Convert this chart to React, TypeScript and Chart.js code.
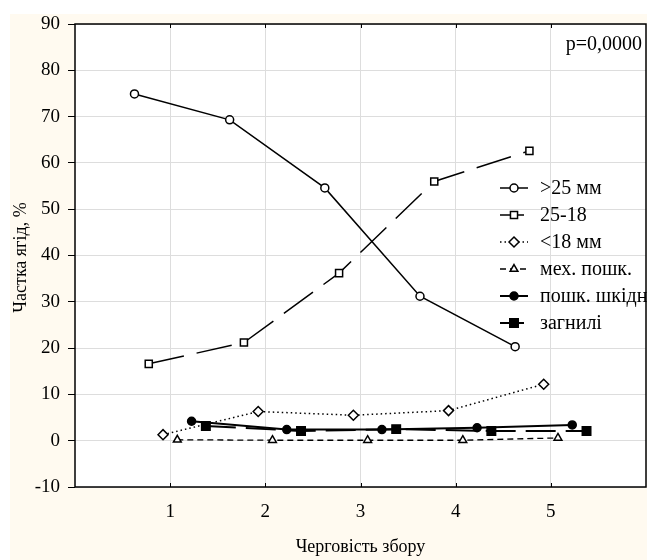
import React, { useEffect, useRef } from 'react';
import { Chart, registerables } from 'chart.js';

Chart.register(...registerables);

// ---- data ----
const harvestOrder = [1, 2, 3, 4, 5];
const xTickValues = [1, 2, 3, 4, 5];
const seriesNames = ['>25 мм', '25-18', '<18 мм', 'мех. пошк.', 'пошк. шкідн', 'загнилі'];
const seriesOffsets = [-0.375, -0.225, -0.075, 0.075, 0.225, 0.375];
const over25 = [74.9, 69.3, 54.6, 31.2, 20.3];
const from25to18 = [16.6, 21.2, 36.2, 56.0, 62.6];
const under18 = [1.3, 6.3, 5.5, 6.5, 12.2];
const mechDamage = [0.2, 0.1, 0.1, 0.1, 0.6];
const pestDamage = [4.2, 2.4, 2.4, 2.8, 3.4];
const rotten = [3.2, 2.1, 2.5, 2.1, 2.1];
const seriesValues = [over25, from25to18, under18, mechDamage, pestDamage, rotten];
const pValueText = 'p=0,0000';
const xTitle = 'Черговість збору';
const yTitle = 'Частка ягід, %';

// ---- styles ----
type SeriesStyle = { dash: number[]; width: number; point: string; filled: boolean; r: number };
const seriesStyles: SeriesStyle[] = [
  { dash: [], width: 1.5, point: 'circle', filled: false, r: 4 },
  { dash: [36, 13], width: 1.5, point: 'rect', filled: false, r: 5 },
  { dash: [1.5, 3], width: 1.5, point: 'rectRot', filled: false, r: 5 },
  { dash: [6, 4], width: 1.3, point: 'triangle', filled: false, r: 4.5 },
  { dash: [], width: 2, point: 'circle', filled: true, r: 4 },
  { dash: [30, 10], width: 2, point: 'rect', filled: true, r: 6 },
];

const FONT = '"Liberation Serif", "Times New Roman", serif';

function drawMarker(ctx: CanvasRenderingContext2D, s: SeriesStyle, x: number, y: number) {
  const r = s.r;
  ctx.save();
  ctx.setLineDash([]);
  ctx.lineWidth = 1.5;
  ctx.strokeStyle = '#000';
  ctx.fillStyle = s.filled ? '#000' : '#fff';
  ctx.beginPath();
  if (s.point === 'circle') {
    ctx.arc(x, y, r, 0, Math.PI * 2);
  } else if (s.point === 'rect') {
    const h = r * Math.SQRT1_2;
    ctx.rect(x - h, y - h, 2 * h, 2 * h);
  } else if (s.point === 'rectRot') {
    ctx.moveTo(x, y - r);
    ctx.lineTo(x + r, y);
    ctx.lineTo(x, y + r);
    ctx.lineTo(x - r, y);
    ctx.closePath();
  } else if (s.point === 'triangle') {
    for (let k = 0; k < 3; k++) {
      const a = (k * 2 * Math.PI) / 3;
      const px = x + Math.sin(a) * r;
      const py = y - Math.cos(a) * r;
      if (k === 0) ctx.moveTo(px, py);
      else ctx.lineTo(px, py);
    }
    ctx.closePath();
  }
  ctx.fill();
  ctx.stroke();
  ctx.restore();
}

const decorPlugin = {
  id: 'decor',
  beforeDraw(chart: any) {
    const { ctx, chartArea: a, width, height } = chart;
    ctx.save();
    ctx.fillStyle = '#ffffff';
    ctx.fillRect(0, 0, width, height);
    ctx.fillStyle = '#fffaf0';
    ctx.fillRect(10, 14, width - 10, height - 14);
    ctx.fillStyle = '#ffffff';
    ctx.fillRect(a.left, a.top, a.right - a.left, a.bottom - a.top);
    ctx.restore();
  },
  afterDraw(chart: any) {
    const { ctx, chartArea: a } = chart;
    const xs = chart.scales.x;
    ctx.save();
    // legend (drawn first so the frame sits over the clipped text)
    const lx0 = a.left + 425;
    const lx1 = lx0 + 28;
    const tx = lx0 + 40;
    seriesNames.forEach((name, i) => {
      const s = seriesStyles[i];
      const y = a.top + 164 + i * 27;
      ctx.save();
      ctx.strokeStyle = '#000';
      ctx.lineWidth = s.width;
      ctx.setLineDash(s.dash.length ? [Math.min(s.dash[0], 10), Math.min(s.dash[1], 4)] : []);
      ctx.beginPath();
      ctx.moveTo(lx0, y);
      ctx.lineTo(lx1, y);
      ctx.stroke();
      ctx.restore();
      drawMarker(ctx, s, (lx0 + lx1) / 2, y);
      ctx.fillStyle = '#000';
      ctx.font = `20px ${FONT}`;
      ctx.textAlign = 'left';
      ctx.textBaseline = 'middle';
      ctx.fillText(name, tx, y + 1);
    });
    // frame
    ctx.strokeStyle = '#000';
    ctx.lineWidth = 1.5;
    ctx.setLineDash([]);
    ctx.strokeRect(a.left, a.top, a.right - a.left, a.bottom - a.top);
    // inward x tick marks
    ctx.lineWidth = 1;
    xTickValues.forEach((v) => {
      const px = Math.round(xs.getPixelForValue(v)) + 0.5;
      ctx.beginPath();
      ctx.moveTo(px, a.bottom);
      ctx.lineTo(px, a.bottom - 4);
      ctx.moveTo(px, a.top);
      ctx.lineTo(px, a.top + 4);
      ctx.stroke();
    });
    // p-value
    ctx.fillStyle = '#000';
    ctx.font = `20px ${FONT}`;
    ctx.textAlign = 'right';
    ctx.textBaseline = 'middle';
    ctx.fillText(pValueText, a.right - 4, a.top + 21);
    // axis titles
    ctx.font = `18px ${FONT}`;
    ctx.textAlign = 'center';
    ctx.textBaseline = 'middle';
    ctx.fillText(xTitle, (a.left + a.right) / 2, 547);
    ctx.save();
    ctx.translate(21, (a.top + a.bottom) / 2 + 2);
    ctx.rotate(-Math.PI / 2);
    ctx.fillText(yTitle, 0, 0);
    ctx.restore();
    ctx.restore();
  },
};

export default function App() {
  const ref = useRef<HTMLCanvasElement | null>(null);
  useEffect(() => {
    if (!ref.current) return;
    const datasets = seriesValues.map((vals, si) => {
      const s = seriesStyles[si];
      return {
        label: seriesNames[si],
        data: vals.map((v, i) => ({ x: harvestOrder[i] + seriesOffsets[si], y: v })),
        showLine: true,
        borderColor: '#000',
        borderWidth: s.width,
        borderDash: s.dash,
        pointStyle: s.point,
        pointRadius: s.r,
        pointBorderWidth: 1.5,
        pointBorderColor: '#000',
        pointBackgroundColor: s.filled ? '#000' : '#fff',
        tension: 0,
      };
    });
    const chart = new Chart(ref.current, {
      type: 'scatter',
      data: { datasets: datasets as any },
      plugins: [decorPlugin as any],
      options: {
        animation: false,
        responsive: false,
        devicePixelRatio: 1,
        layout: { autoPadding: false, padding: { top: 24, right: 1, left: 0, bottom: 0 } },
        plugins: { legend: { display: false }, tooltip: { enabled: false } },
        scales: {
          x: {
            type: 'linear',
            min: 0,
            max: 6,
            afterBuildTicks: (scale: any) => {
              scale.ticks = xTickValues.map((v) => ({ value: v }));
            },
            afterFit: (scale: any) => {
              scale.height = 73;
              scale.paddingLeft = 0;
              scale.paddingRight = 0;
            },
            grid: { color: '#dddddd', lineWidth: 1, drawTicks: false },
            border: { display: false },
            ticks: { color: '#000', font: { family: FONT, size: 19 }, padding: 14 },
          },
          y: {
            type: 'linear',
            min: -10,
            max: 90,
            afterFit: (scale: any) => {
              scale.width = 75;
              scale.paddingTop = 0;
              scale.paddingBottom = 0;
            },
            grid: { color: '#dddddd', lineWidth: 1, tickLength: 7, tickColor: '#000' },
            border: { display: false },
            ticks: { stepSize: 10, color: '#000', font: { family: FONT, size: 19 }, padding: 8 },
          },
        },
      },
    });
    return () => chart.destroy();
  }, []);
  return (
    <div style={{ position: 'absolute', left: 0, top: 0, width: 647, height: 560 }}>
      <canvas ref={ref} width={647} height={560} style={{ display: 'block' }} />
    </div>
  );
}
